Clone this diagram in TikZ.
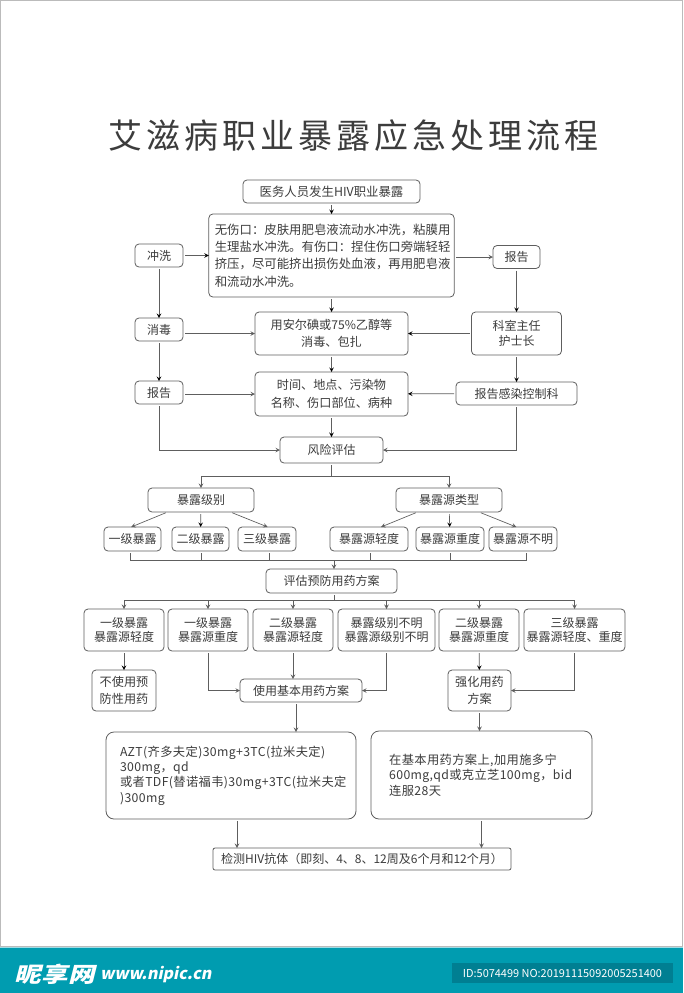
\documentclass[tikz,border=0pt]{standalone}
\usepackage{fontspec}
\setmainfont{Noto Sans CJK SC}
\newfontfamily\titlefont[LetterSpace=12]{Noto Sans CJK SC}
\newfontfamily\regfont[LetterSpace=3]{Noto Sans CJK SC}
\newfontfamily\logofont[FakeSlant=0.2]{Noto Sans CJK SC}
\newcommand{\qcolon}{\symbol{"FF1A}}
\newcommand{\qcomma}{\symbol{"FF0C}}
\newcommand{\qopen}{\symbol{"FF08}}
\newcommand{\qclose}{\symbol{"FF09}}
\usepackage{xcolor}
\definecolor{linecol}{HTML}{5E5E5E}
\definecolor{textcol}{HTML}{3C3C3C}
\definecolor{framecol}{HTML}{BBBBBB}
\definecolor{bandcol}{HTML}{009CB0}
\definecolor{rimcol}{HTML}{9FDDE6}
\definecolor{idcol}{HTML}{007F92}
\usetikzlibrary{positioning}
\usetikzlibrary{arrows}
\tikzset{
	box/.style={draw=linecol,line width=.6pt,rounded corners=3pt,align=center,text=textcol},
	sz/.style 2 args={minimum width=#1*.75pt,minimum height=#2*.75pt},
	flow/.style={draw=linecol,line width=.5pt,shorten <=1.5pt},
	tight/.style={font=\fontsize{9.1}{13}\selectfont},
	regimen/.style={box,rounded corners=6pt,align=left,font=\regfont\fontsize{9.2}{11.5}\selectfont},
}

\begin{document}
\begin{tikzpicture}[x=.75pt,y=-.75pt,>=stealth,every node/.style={inner sep=0,outer sep=0,font=\fontsize{9}{11}\selectfont}]
	\useasboundingbox (0,0) rectangle (683,993);
	\fill[white] (0,0) rectangle (683,947);
	\draw[framecol,line width=.75pt] (.5,.5) rectangle (682.5,946.5);
	\fill[bandcol] (0,947) rectangle (683,993);
	\draw[rimcol,line width=.5pt] (0,947) -- (683,947);
	\node (title) [text=textcol,font=\titlefont\fontsize{25.5}{28}\selectfont] at (353.5,136) {艾滋病职业暴露应急处理流程};
	\node (top) [box,sz={177}{23},font=\fontsize{9.3}{11}\selectfont] at (331.5,191.5) {医务人员发生HIV职业暴露};
	\node (wash) [box,sz={245}{83},text width=175pt,inner xsep=4.5pt,align=left,font=\fontsize{9.3}{13.1}\selectfont] at (331.5,255.5) {无伤口\qcolon 皮肤用肥皂液流动水冲洗\qcomma 粘膜用\\生理盐水冲洗。有伤口\qcolon 捏住伤口旁端轻轻\\挤压\qcomma 尽可能挤出损伤处血液\qcomma 再用肥皂液\\和流动水冲洗。};
	\node (cx) [box,sz={48}{23}] at (159,255.5) {冲洗};
	\node (rp) [box,sz={47}{23}] at (516.5,257) {报告};
	\node (xd) [box,sz={48}{23}] at (159,329.5) {消毒};
	\node (yong) [box,tight,sz={153}{43}] at (331.5,333.5) {用安尔碘或75\%乙醇等\\消毒、包扎};
	\node (ks) [box,sz={90}{43}] at (516.5,333.5) {科室主任\\护士长};
	\node (bg) [box,sz={48}{23}] at (159,392.5) {报告};
	\node (tm) [box,tight,sz={153}{44}] at (331.5,394) {时间、地点、污染物\\名称、伤口部位、病种};
	\node (ri) [box,sz={121}{23}] at (516.5,393.5) {报告感染控制科};
	\node (risk) [box,sz={103}{26}] at (331.5,450) {风险评估};
	\coordinate (rj) at (331.5,476);
	\node (lvl) [box,sz={106}{24}] at (201,500) {暴露级别};
	\node (src) [box,sz={106}{24}] at (449,500) {暴露源类型};
	\node (l1) [box,sz={57}{24}] at (132.5,539) {一级暴露};
	\node (l2) [box,sz={57}{24}] at (200.5,539) {二级暴露};
	\node (l3) [box,sz={58}{24}] at (267,539) {三级暴露};
	\node (s1) [box,sz={78}{24}] at (369,539) {暴露源轻度};
	\node (s2) [box,sz={68}{24}] at (450,539) {暴露源重度};
	\node (s3) [box,sz={68}{24}] at (523,539) {暴露源不明};
	\coordinate (cj) at (334,560);
	\node (assess) [box,sz={131}{24}] at (331.5,581) {评估预防用药方案};
	\coordinate (bj) at (334,600);
	\node (caseA) [box,sz={80}{42}] at (124,630) {一级暴露\\暴露源轻度};
	\node (caseB) [box,sz={80}{42}] at (208,630) {一级暴露\\暴露源重度};
	\node (caseC) [box,sz={80}{42}] at (293,630) {二级暴露\\暴露源轻度};
	\node (caseD) [box,sz={97}{42}] at (386.5,630) {暴露级别不明\\暴露源级别不明};
	\node (caseE) [box,sz={80}{42}] at (479,630) {二级暴露\\暴露源重度};
	\node (caseF) [box,sz={101}{42}] at (574.5,630) {三级暴露\\暴露源轻度、重度};
	\node (none) [box,tight,sz={64}{41}] at (124,690.5) {不使用预\\防性用药};
	\node (basic) [box,sz={122}{23}] at (301,690.5) {使用基本用药方案};
	\node (strong) [box,tight,sz={63}{41}] at (479.5,690.5) {强化用药\\方案};
	\node (regL) [regimen,sz={250}{87},text width=166.5pt,inner xsep=10.5pt] at (231,775.5) {AZT(齐多夫定)30mg+3TC(拉米夫定)\\300mg\qcomma qd\\或者TDF(替诺福韦)30mg+3TC(拉米夫定\\)300mg};
	\node (regR) [regimen,sz={221}{88},text width=138.5pt,inner xsep=13.5pt] at (481.5,775) {在基本用药方案上,加用施多宁\\600mg,qd或克立芝100mg\qcomma bid\\连服28天};
	\node (test) [box,rounded corners=1.5pt,sz={298}{22}] at (362,859) {检测HIV抗体\qopen 即刻、4、8、12周及6个月和12个月\qclose};
	\node (logo) [text=white,font=\logofont\bfseries\fontsize{20}{22}\selectfont,anchor=west,yscale=.8,transform shape] at (15,974) {昵享网};
	\node (site) [text=white,font=\logofont\bfseries\fontsize{12}{15}\selectfont,anchor=west] at (100,974) {www.nipic.cn};
	\node (id) [fill=idcol,text=white,sz={221}{20},font=\fontsize{8.2}{10}\selectfont] at (562.5,973) {ID:5074499 NO:20191115092005251400};
	\path[->,flow]
		(top) edge (wash)
		(wash) edge (yong)
		(yong) edge (tm)
		(tm) edge (risk)
		(cx) edge (wash)
		(cx) edge (xd)
		(xd) edge (bg)
		(rp) edge (ks)
		(ks) edge (ri)
		(ks) edge (yong)
		(ri) edge (tm)
		(lvl) edge (l2)
		(src) edge (s2)
		(caseA) edge (none)
		(caseE) edge (strong);
	\draw[->,flow] ([xshift=-25pt]lvl.south) -- ([xshift=-1pt]l1.north);
	\draw[->,flow] ([xshift=22pt]lvl.south) -- ([xshift=.5pt]l3.north);
	\draw[->,flow] ([xshift=-23.5pt]src.south) -- ([xshift=9pt]s1.north);
	\draw[->,flow] ([xshift=22.5pt]src.south) -- ([xshift=-5pt]s3.north);
	\draw[->,flow] (wash.east |- rp.west) -- (rp.west);
	\draw[->,flow] (xd.east |- yong.west) -- (yong.west);
	\draw[->,flow] (bg.east |- tm.west) -- (tm.west);
	\draw[->,flow] (bg.south) |- (risk.west);
	\draw[->,flow] (ri.south) |- (risk.east);
	\draw[flow] (risk.south) -- (rj);
	\draw[->,flow,shorten <=0pt] (rj) -| (lvl.north);
	\draw[->,flow,shorten <=0pt] (rj) -| (src.north);
	\foreach \n/\d in {l1/-2,l2/.5,l3/1.5,s1/.75,s2/0,s3/2.25}
		\draw[flow] ([xshift=\d pt]\n.south) |- (cj);
	\draw[->,flow,shorten <=0pt] (cj) -- (cj |- assess.north);
	\draw[flow] (assess.south -| bj) -- (bj);
	\foreach \n in {caseA,caseB,caseC,caseD,caseE,caseF}
		\draw[->,flow,shorten <=0pt] (bj) -| (\n.north);
	\draw[->,flow] (caseB.south) |- (basic.west);
	\draw[->,flow] (caseC.south) -- (caseC.south |- basic.north);
	\draw[->,flow] (caseD.south) |- (basic.east);
	\draw[->,flow] (caseF.south) |- (strong.east);
	\draw[->,flow] ([xshift=-3.75pt]basic.south) -- ([xshift=-3.75pt]basic.south |- regL.north);
	\draw[->,flow] (strong.south) -- (strong.south |- regR.north);
	\draw[->,flow] ([xshift=4.5pt]regL.south) -- ([xshift=4.5pt]regL.south |- test.north);
	\draw[->,flow] (regR.south) -- (regR.south |- test.north);
\end{tikzpicture}
\end{document}
